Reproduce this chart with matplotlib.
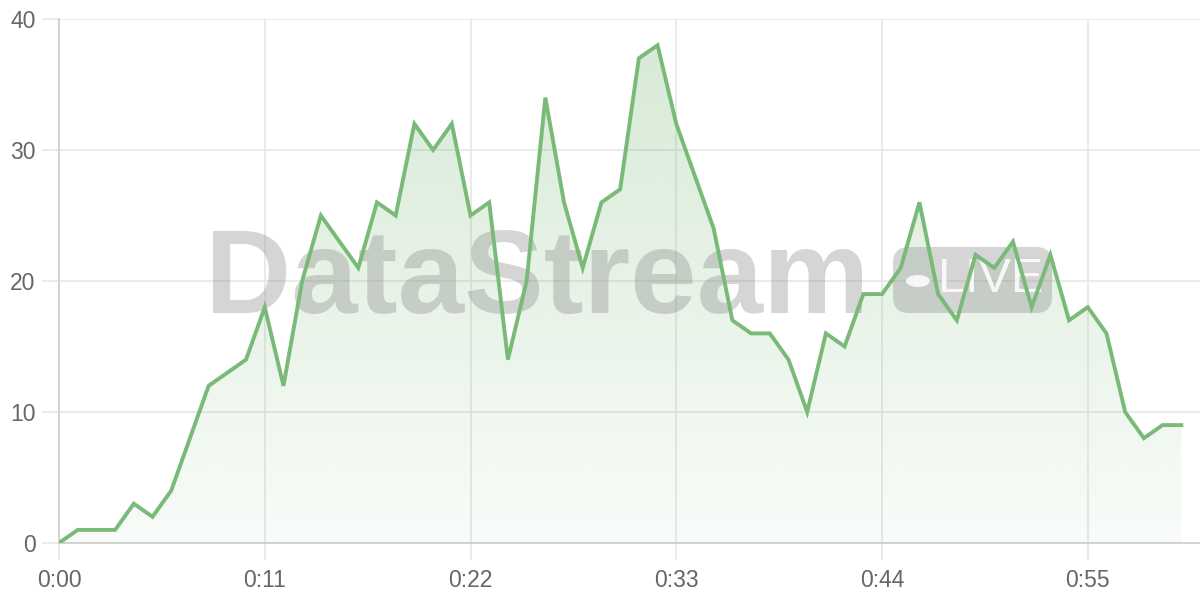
import numpy as np
import matplotlib.pyplot as plt
from matplotlib.patches import FancyBboxPatch, Circle, PathPatch
from matplotlib.path import Path

minutes = list(range(61))
values = [0, 1, 1, 1, 3, 2, 4, 8, 12, 13, 14, 18, 12, 20, 25, 23, 21, 26, 25, 32,
          30, 32, 25, 26, 14, 20, 34, 26, 21, 26, 27, 37, 38, 32, 28, 24, 17, 16, 16, 14,
          10, 16, 15, 19, 19, 21, 26, 19, 17, 22, 21, 23, 18, 22, 17, 18, 16, 10, 8, 9, 9]
xticks = [0, 11, 22, 33, 44, 55]
xticklabels = ["0:00", "0:11", "0:22", "0:33", "0:44", "0:55"]
yticks = [0, 10, 20, 30, 40]

green = "#7aba78"
grid = "#e6e6e6"
wm = "#8c8c8c"
wm_alpha = 0.36

fig = plt.figure(figsize=(12, 6), dpi=100)
ax = fig.add_axes([59 / 1200, 57 / 600, 1141 / 1200, 524 / 600])

# watermark: above the fill, below the line
ax.text(205 / 1200, 1 - 313 / 600, "DataStream", fontsize=86, fontweight="bold",
        family="Liberation Sans", color=wm, alpha=wm_alpha, ha="left",
        va="baseline", transform=fig.transFigure, zorder=2.5, clip_on=False)
box = FancyBboxPatch((893 / 1200, 1 - 313 / 600), 159 / 1200, 66 / 600,
                     boxstyle="round,pad=0,rounding_size=%f" % (16 / 1200),
                     mutation_aspect=2, transform=fig.transFigure,
                     facecolor=wm, alpha=wm_alpha, edgecolor="none",
                     zorder=2.5, clip_on=False)
ax.add_artist(box)
ax.add_artist(Circle((918 / 1200, 1 - 281 / 600), 12 / 1200,
                     transform=fig.transFigure, facecolor="white", alpha=0.85,
                     edgecolor="none", zorder=2.6, clip_on=False))
ax.text(938 / 1200, 1 - 280 / 600, "LIVE", fontsize=35, family="Liberation Sans",
        color="white", alpha=0.85, ha="left", va="center", stretch="condensed",
        transform=fig.transFigure, zorder=2.6, clip_on=False)

# gradient fill under the line
verts = [(minutes[0], 0)] + list(zip(minutes, values)) + [(minutes[-1], 0)]
poly = PathPatch(Path(verts), facecolor="none", edgecolor="none")
ax.add_patch(poly)
img = np.zeros((256, 1, 4))
img[:, :, 0] = 0x7a / 255
img[:, :, 1] = 0xba / 255
img[:, :, 2] = 0x78 / 255
img[:, :, 3] = np.linspace(0.05, 0.3, 256).reshape(-1, 1)
im = ax.imshow(img, extent=[0, 60, 0, 38], origin="lower", aspect="auto", zorder=2)
im.set_clip_path(poly)

ax.plot(minutes, values, color=green, lw=2.8, zorder=3, solid_joinstyle="miter")

ax.set_xlim(0, 61)
ax.set_ylim(0, 40)
ax.set_xticks(xticks)
ax.set_xticklabels(xticklabels)
ax.set_yticks(yticks)
ax.grid(True, color=grid, lw=1.2, zorder=1)
ax.set_axisbelow(True)
for s in ["top", "right"]:
    ax.spines[s].set_visible(False)
for s in ["left", "bottom"]:
    ax.spines[s].set_color("#cccccc")
    ax.spines[s].set_linewidth(1.2)
ax.tick_params(colors=grid, length=12, width=1.2, labelcolor="#666666",
               labelsize=16.5)
ax.tick_params(axis="y", pad=5)
ax.tick_params(axis="x", pad=7)
for lab in ax.get_xticklabels() + ax.get_yticklabels():
    lab.set_family("Liberation Sans")

fig.savefig("out.png", dpi=100)
